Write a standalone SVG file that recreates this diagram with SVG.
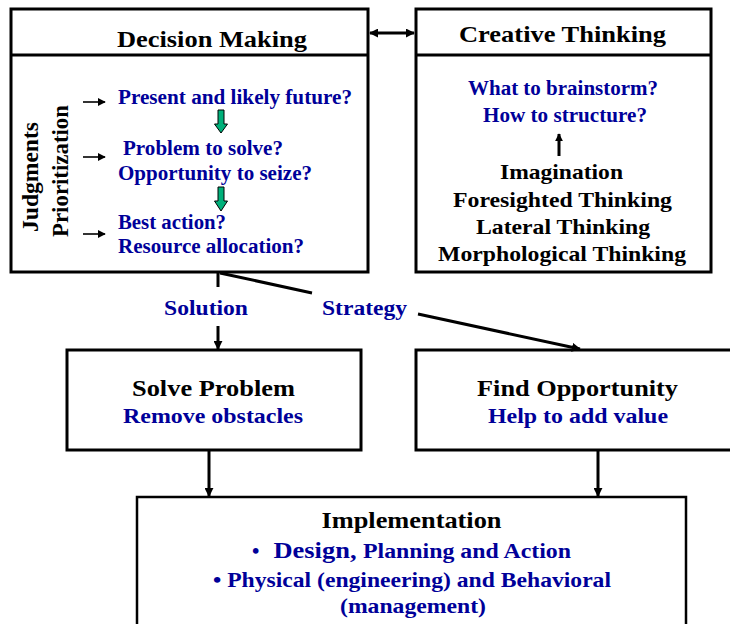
<svg xmlns="http://www.w3.org/2000/svg" width="730" height="624" viewBox="0 0 730 624">
<defs>
<style>
.box{fill:#fff;stroke:#000;stroke-width:3}
text{font-family:'Liberation Serif',Tinos,'Times New Roman',Times,serif;font-weight:bold}
.k{fill:#000}
.b{fill:#000099}
.c{stroke:#000;stroke-width:3;fill:none}
.s{stroke:#000;stroke-width:1.6;fill:none}
.g{fill:#00B07A;stroke:#000;stroke-width:1}
</style>
<marker id="ah" viewBox="0 0 10 10" refX="9" refY="5" markerWidth="9" markerHeight="9" markerUnits="userSpaceOnUse" orient="auto-start-reverse">
<path d="M0,0 L10,5 L0,10 z" fill="#000"/>
</marker>
<marker id="ahs" viewBox="0 0 10 10" refX="9" refY="5" markerWidth="8" markerHeight="8" markerUnits="userSpaceOnUse" orient="auto-start-reverse">
<path d="M0,0 L10,5 L0,10 z" fill="#000"/>
</marker>
</defs>
<rect width="730" height="624" fill="#fff"/>

<g id="decision-making" font-family="Liberation Serif, serif">
<rect class="box" x="11" y="9" width="357" height="263"/>
<line class="c" x1="11" y1="55" x2="368" y2="55"/>
<text class="k" x="117" y="47" font-size="24" textLength="190" lengthAdjust="spacingAndGlyphs">Decision Making</text>
<text class="k" transform="translate(38,232) rotate(-90)" font-size="23" textLength="110" lengthAdjust="spacingAndGlyphs">Judgments</text>
<text class="k" transform="translate(68,237) rotate(-90)" font-size="23" textLength="132" lengthAdjust="spacingAndGlyphs">Prioritization</text>
<line class="s" x1="83" y1="102" x2="105" y2="102" marker-end="url(#ahs)"/>
<line class="s" x1="83" y1="157" x2="105" y2="157" marker-end="url(#ahs)"/>
<line class="s" x1="83" y1="234" x2="105" y2="234" marker-end="url(#ahs)"/>
<text class="b" x="118" y="103.5" font-size="20" textLength="234" lengthAdjust="spacingAndGlyphs">Present and likely future?</text>
<polygon class="g" points="218,110 224,110 224,124 227.5,124 221,133 214.5,124 218,124"/>
<text class="b" x="123" y="155" font-size="20" textLength="160" lengthAdjust="spacingAndGlyphs">Problem to solve?</text>
<text class="b" x="118" y="180" font-size="20" textLength="194" lengthAdjust="spacingAndGlyphs">Opportunity to seize?</text>
<polygon class="g" points="218,187 224,187 224,201 227.5,201 221,211 214.5,201 218,201"/>
<text class="b" x="118" y="228.5" font-size="20" textLength="108" lengthAdjust="spacingAndGlyphs">Best action?</text>
<text class="b" x="118" y="253" font-size="20" textLength="186" lengthAdjust="spacingAndGlyphs">Resource allocation?</text>
</g>

<g id="creative-thinking">
<rect class="box" x="416" y="9" width="295" height="263"/>
<line class="c" x1="416" y1="55" x2="711" y2="55"/>
<text class="k" x="459" y="41.5" font-size="24" textLength="207" lengthAdjust="spacingAndGlyphs">Creative Thinking</text>
<text class="b" x="468" y="94.5" font-size="20" textLength="190" lengthAdjust="spacingAndGlyphs">What to brainstorm?</text>
<text class="b" x="483" y="121.5" font-size="20" textLength="164" lengthAdjust="spacingAndGlyphs">How to structure?</text>
<line class="c" x1="559" y1="156" x2="559" y2="134" stroke-width="2" marker-end="url(#ahs)"/>
<text class="k" x="500" y="179" font-size="22" textLength="123" lengthAdjust="spacingAndGlyphs">Imagination</text>
<text class="k" x="453" y="206.5" font-size="22" textLength="219" lengthAdjust="spacingAndGlyphs">Foresighted Thinking</text>
<text class="k" x="476" y="233.5" font-size="22" textLength="174" lengthAdjust="spacingAndGlyphs">Lateral Thinking</text>
<text class="k" x="438" y="261" font-size="22" textLength="248" lengthAdjust="spacingAndGlyphs">Morphological Thinking</text>
</g>

<g id="solve-problem">
<rect class="box" x="67" y="350" width="294" height="100"/>
<text class="k" x="132" y="396" font-size="23" textLength="163" lengthAdjust="spacingAndGlyphs">Solve Problem</text>
<text class="b" x="123" y="423" font-size="21" textLength="180" lengthAdjust="spacingAndGlyphs">Remove obstacles</text>
</g>

<g id="find-opportunity">
<rect class="box" x="416" y="350" width="330" height="100"/>
<text class="k" x="477" y="396" font-size="23" textLength="201" lengthAdjust="spacingAndGlyphs">Find Opportunity</text>
<text class="b" x="488" y="423" font-size="21" textLength="180" lengthAdjust="spacingAndGlyphs">Help to add value</text>
</g>

<g id="implementation">
<rect x="137" y="497" width="549" height="140" fill="#fff" stroke="#000" stroke-width="2.5"/>
<text class="k" x="321.5" y="528" font-size="24" textLength="180" lengthAdjust="spacingAndGlyphs">Implementation</text>
<text class="b" x="252" y="558" font-size="21">•</text>
<text class="b" x="273.5" y="558" font-size="24" textLength="83" lengthAdjust="spacingAndGlyphs">Design,</text>
<text class="b" x="363" y="558" font-size="20" textLength="208" lengthAdjust="spacingAndGlyphs">Planning and Action</text>
<text class="b" x="213" y="586.5" font-size="21" textLength="398" lengthAdjust="spacingAndGlyphs">• Physical (engineering) and Behavioral</text>
<text class="b" x="340" y="613" font-size="21" textLength="146" lengthAdjust="spacingAndGlyphs">(management)</text>
</g>

<g id="connectors">
<line class="c" x1="370" y1="33" x2="414" y2="33" stroke-width="2.5" marker-start="url(#ah)" marker-end="url(#ah)"/>
<line class="c" x1="218" y1="272" x2="218" y2="287" stroke-width="2.5"/>
<line class="c" x1="218" y1="326" x2="218" y2="349" stroke-width="2.5" marker-end="url(#ah)"/>
<text class="b" x="164" y="315" font-size="22" textLength="84" lengthAdjust="spacingAndGlyphs">Solution</text>
<line class="c" x1="220" y1="273" x2="312" y2="293" stroke-width="2.5"/>
<line class="c" x1="418" y1="314" x2="580" y2="349" stroke-width="2.5" marker-end="url(#ah)"/>
<text class="b" x="322" y="315" font-size="22" textLength="85" lengthAdjust="spacingAndGlyphs">Strategy</text>
<line class="c" x1="209" y1="451" x2="209" y2="496" stroke-width="2.5" marker-end="url(#ah)"/>
<line class="c" x1="598" y1="451" x2="598" y2="496" stroke-width="2.5" marker-end="url(#ah)"/>
</g>
</svg>
